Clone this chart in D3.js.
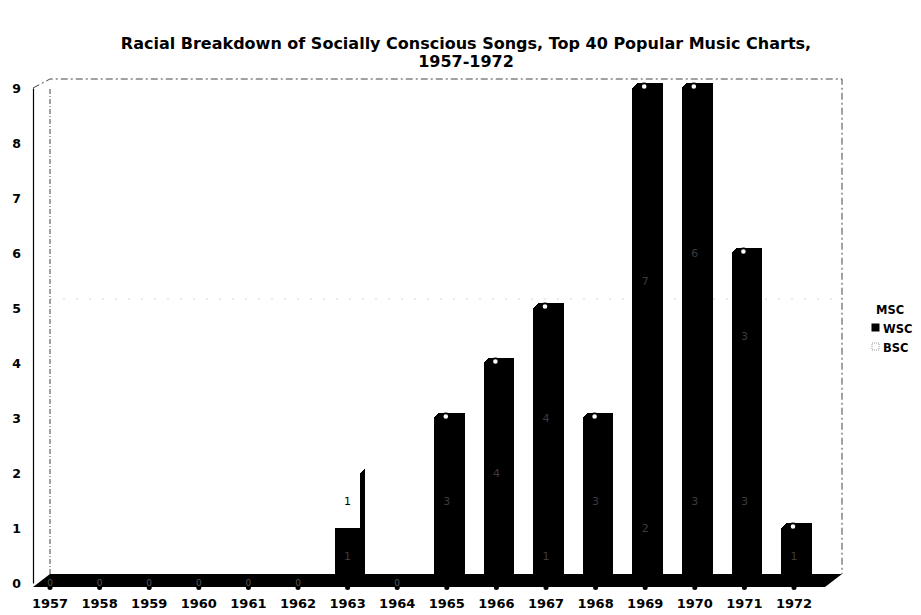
<!DOCTYPE html>
<html>
<head>
<meta charset="utf-8">
<script src="https://cdn.jsdelivr.net/npm/d3@7/dist/d3.min.js"></script>
<style>
  html, body { margin: 0; padding: 0; background: #fff; }
  svg { display: block; }
  text { font-family: "DejaVu Sans", Verdana, sans-serif; font-weight: bold; }
</style>
</head>
<body>
<svg id="chart" width="921" height="615"></svg>
<script>
// Socially conscious songs per year, stacked bottom to top: BSC, WSC, MSC
const years = ["1957","1958","1959","1960","1961","1962","1963","1964",
               "1965","1966","1967","1968","1969","1970","1971","1972"];
const bsc = [0,0,0,0,0,0,0,0,0,0,1,0,2,3,3,0];
const wsc = [0,0,0,0,0,0,1,0,3,4,4,3,7,6,3,1];
const msc = [0,0,0,0,0,0,1,0,0,0,0,0,0,0,0,0];
const seriesNames = ["MSC", "WSC", "BSC"];
const yTicks = [0,1,2,3,4,5,6,7,8,9];
const titleLines = ["Racial Breakdown of Socially Conscious Songs, Top 40 Popular Music Charts,",
                    "1957-1972"];

const svg = d3.select("#chart");

// title
const title = svg.append("g");
titleLines.forEach((t, i) => {
  title.append("text")
    .attr("x", 466).attr("y", 49 + i * 18)
    .attr("text-anchor", "middle")
    .style("font-size", "16px")
    .text(t);
});

// scales (front plane) and depth offset of the 3D box
const x = d3.scaleBand().domain(years).range([25.2, 818.8])
  .paddingInner(0.48).paddingOuter(0.24);
const y = d3.scaleLinear().domain([0, 9]).range([583, 88]);
const depth = { dx: 17, dy: -9 };
const barDepth = { dx: 5, dy: -5 };
const xLeft = 33, xRight = 825;

// back wall frame
const wall = svg.append("g");
wall.selectAll("line.grid").data([5]).join("line")
  .attr("class", "grid")
  .attr("x1", xLeft + depth.dx).attr("x2", xRight + depth.dx)
  .attr("y1", d => y(d) + depth.dy).attr("y2", d => y(d) + depth.dy)
  .attr("stroke", "#d4d4d4").attr("stroke-width", 1).attr("stroke-dasharray", "2,11");
wall.append("path")
  .attr("d", `M${xLeft},${y(9)} L${xLeft + depth.dx},${y(9) + depth.dy} L${xRight + depth.dx},${y(9) + depth.dy} L${xRight + depth.dx},${y(0) + depth.dy}`)
  .attr("fill", "none").attr("stroke", "#444").attr("stroke-width", 1).attr("stroke-dasharray", "7,3,2,3");
wall.append("line")
  .attr("x1", xLeft + depth.dx).attr("x2", xLeft + depth.dx)
  .attr("y1", y(9) + depth.dy + 10).attr("y2", y(0) + depth.dy)
  .attr("stroke", "#444").attr("stroke-width", 1).attr("stroke-dasharray", "5,2,1,2");

// floor slab
svg.append("path")
  .attr("d", `M${xLeft},${y(0) + 4} L${xRight},${y(0) + 4} L${xRight + depth.dx},${y(0) + depth.dy} L${xLeft + depth.dx},${y(0) + depth.dy} Z`)
  .attr("fill", "#000");

// label bumps under the floor
svg.append("g").selectAll("circle").data(years).join("circle")
  .attr("cx", d => x(d) + x.bandwidth() / 2).attr("cy", y(0) + 4.5)
  .attr("r", 2.5).attr("fill", "#000");

// y axis on the front edge
const yAxis = svg.append("g").attr("transform", `translate(${xLeft},0)`)
  .call(d3.axisLeft(y).tickValues(yTicks).tickSize(0).tickSizeOuter(0).tickPadding(12));
yAxis.select(".domain").attr("stroke", "#000").attr("stroke-width", 1.2);
yAxis.selectAll("text").style("font-size", "12.5px").attr("fill", "#000")
  .attr("font-family", null);

// x axis labels
const xAxis = svg.append("g").attr("transform", `translate(0,${y(0) + 14})`)
  .call(d3.axisBottom(x).tickSize(0).tickPadding(2));
xAxis.select(".domain").remove();
xAxis.selectAll("text").style("font-size", "13px").attr("fill", "#000")
  .attr("font-family", null);

// stacked segments
const rows = years.map((yr, i) => ({ year: yr, BSC: bsc[i], WSC: wsc[i], MSC: msc[i] }));
const stack = d3.stack().keys(["BSC", "WSC", "MSC"]);
const layers = stack(rows);
const fronts = { BSC: "#000", WSC: "#000", MSC: "#fff" };

const bars = svg.append("g").attr("shape-rendering", "crispEdges");
layers.forEach(layer => {
  const key = layer.key;
  layer.forEach((seg, i) => {
    const v = seg[1] - seg[0];
    if (v <= 0) return;
    const x0 = x(years[i]), x1 = x0 + x.bandwidth();
    const yb = y(seg[0]), yt = y(seg[1]);
    const g = bars.append("g");
    // side face
    g.append("path")
      .attr("d", `M${x1},${yb} L${x1 + barDepth.dx},${yb + barDepth.dy} L${x1 + barDepth.dx},${yt + barDepth.dy} L${x1},${yt} Z`)
      .attr("fill", "#000");
    // top face
    g.append("path")
      .attr("d", `M${x0},${yt} L${x0 + barDepth.dx},${yt + barDepth.dy} L${x1 + barDepth.dx},${yt + barDepth.dy} L${x1},${yt} Z`)
      .attr("fill", key === "MSC" ? "#fff" : "#000");
    // front face
    g.append("rect")
      .attr("x", x0).attr("y", yt).attr("width", x1 - x0).attr("height", yb - yt)
      .attr("fill", fronts[key]);
  });
});

// value labels
const labels = svg.append("g");
layers.forEach(layer => {
  const key = layer.key;
  layer.forEach((seg, i) => {
    const v = seg[1] - seg[0];
    const cx = x(years[i]) + x.bandwidth() / 2;
    const total = bsc[i] + wsc[i] + msc[i];
    if (v > 0) {
      labels.append("text")
        .attr("x", cx).attr("y", y((seg[0] + seg[1]) / 2) + 4)
        .attr("text-anchor", "middle")
        .style("font-size", "11px")
        .style("font-weight", "normal")
        .attr("fill", key === "MSC" ? "#000" : "#3c3c3c")
        .text(v);
    } else if (key === "MSC" && total > 0) {
      // zero-valued top segment: small label ring on the bar top
      labels.append("circle")
        .attr("cx", cx - 1).attr("cy", y(seg[1]) - 1.5)
        .attr("r", 3.2).attr("fill", "#fff").attr("stroke", "#000").attr("stroke-width", 1.8);
    } else if (key === "WSC" && total === 0) {
      labels.append("text")
        .attr("x", cx).attr("y", y(0) + 3)
        .attr("text-anchor", "middle")
        .style("font-size", "9px")
        .style("font-weight", "normal")
        .attr("fill", "#555")
        .text(0);
    }
  });
});

// legend
const legend = svg.append("g");
const legendMarks = {
  MSC: { fill: "#fff", stroke: "none", dash: null },
  WSC: { fill: "#000", stroke: "#000", dash: null },
  BSC: { fill: "#fff", stroke: "#999", dash: "1,1" }
};
seriesNames.forEach((name, i) => {
  const yy = 309 + i * 19;
  legend.append("rect")
    .attr("x", 872).attr("y", yy - 4).attr("width", 7).attr("height", 7)
    .attr("fill", legendMarks[name].fill)
    .attr("stroke", legendMarks[name].stroke)
    .attr("stroke-dasharray", legendMarks[name].dash);
  legend.append("text")
    .attr("x", name === "MSC" ? 876 : 883).attr("y", yy + 4.5)
    .style("font-size", "11.5px")
    .text(name);
});
</script>
</body>
</html>
